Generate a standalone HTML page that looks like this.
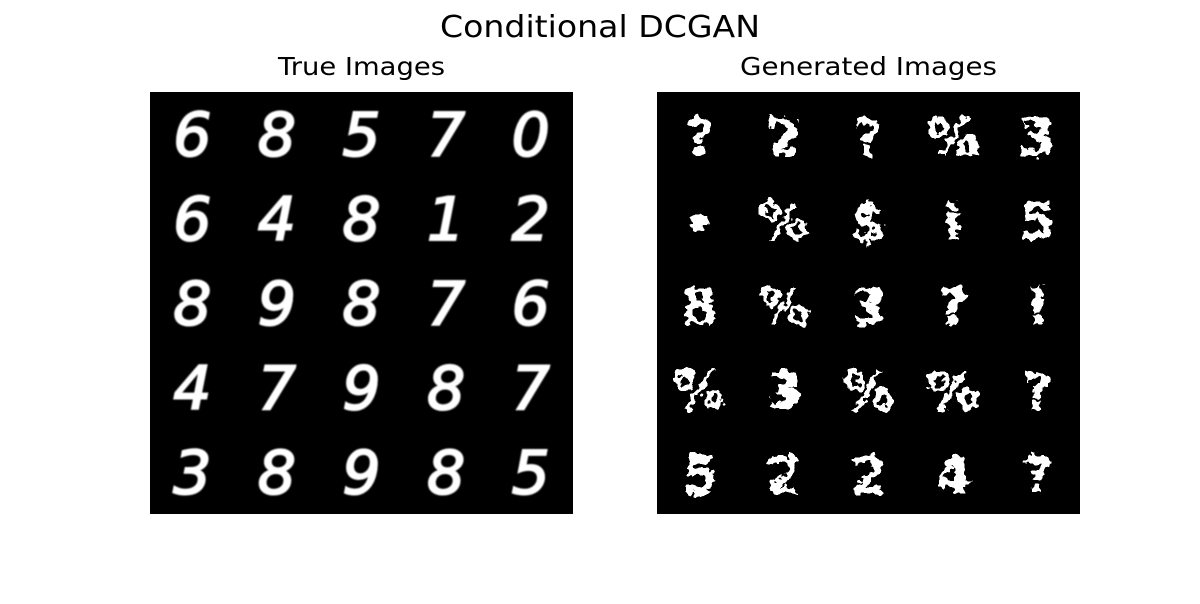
<!DOCTYPE html>
<html><head><meta charset="utf-8">
<style>
body{margin:0;background:#fff;width:1200px;height:600px;overflow:hidden;font-family:"DejaVu Sans","Liberation Sans",sans-serif;}
</style></head>
<body>
<svg width="1200" height="600" xmlns="http://www.w3.org/2000/svg">
<defs>
<filter id="blob" x="-20%" y="-20%" width="140%" height="140%">
<feTurbulence type="fractalNoise" baseFrequency="0.12" numOctaves="2" seed="3" result="n"/>
<feDisplacementMap in="SourceGraphic" in2="n" scale="14" xChannelSelector="R" yChannelSelector="G" result="d"/>
<feComponentTransfer in="d"><feFuncA type="discrete" tableValues="0 1 1"/></feComponentTransfer>
</filter>
<filter id="soft"><feGaussianBlur stdDeviation="0.7"/></filter>
</defs>
<text x="600" y="37" text-anchor="middle" font-size="30" textLength="320" lengthAdjust="spacingAndGlyphs" fill="#000">Conditional DCGAN</text>
<text x="361.5" y="75" text-anchor="middle" font-size="25" textLength="167" lengthAdjust="spacingAndGlyphs" fill="#000">True Images</text>
<text x="868.5" y="75" text-anchor="middle" font-size="25" textLength="257" lengthAdjust="spacingAndGlyphs" fill="#000">Generated Images</text>
<rect x="150" y="92" width="423" height="422" fill="#000"/>
<rect x="657" y="92" width="423" height="422" fill="#000"/>
<g id="trueg" fill="#fff" stroke="#fff" stroke-width="2" font-family="DejaVu Sans, sans-serif" font-style="italic" font-size="60" text-anchor="middle" filter="url(#soft)"></g>
<g id="geng" fill="#fff" font-family="DejaVu Sans, sans-serif" font-weight="bold" font-size="52" text-anchor="middle" filter="url(#blob)"></g>
</svg>
<script>
const trueDigits=["6","8","5","7","0","6","4","8","1","2","8","9","8","7","6","4","7","9","8","7","3","8","9","8","5"];
const genDigits=["?","2","?","%","3","•","%","$","i","5","8","%","3","?","!","%","3","%","%","?","5","2","2","4","?"];
const cell=84.6;
function place(g,arr,x0){
  arr.forEach((d,i)=>{
    const t=document.createElementNS("http://www.w3.org/2000/svg","text");
    
    
    const c=i%5,r=Math.floor(i/5);
    t.setAttribute("x",x0+cell*(c+0.5));
    t.setAttribute("y",92+cell*(r+0.5)+21);
    t.textContent=d;
    g.appendChild(t);
  });
}
place(document.getElementById("trueg"),trueDigits,150);
place(document.getElementById("geng"),genDigits,657);
</script>
</body></html>
